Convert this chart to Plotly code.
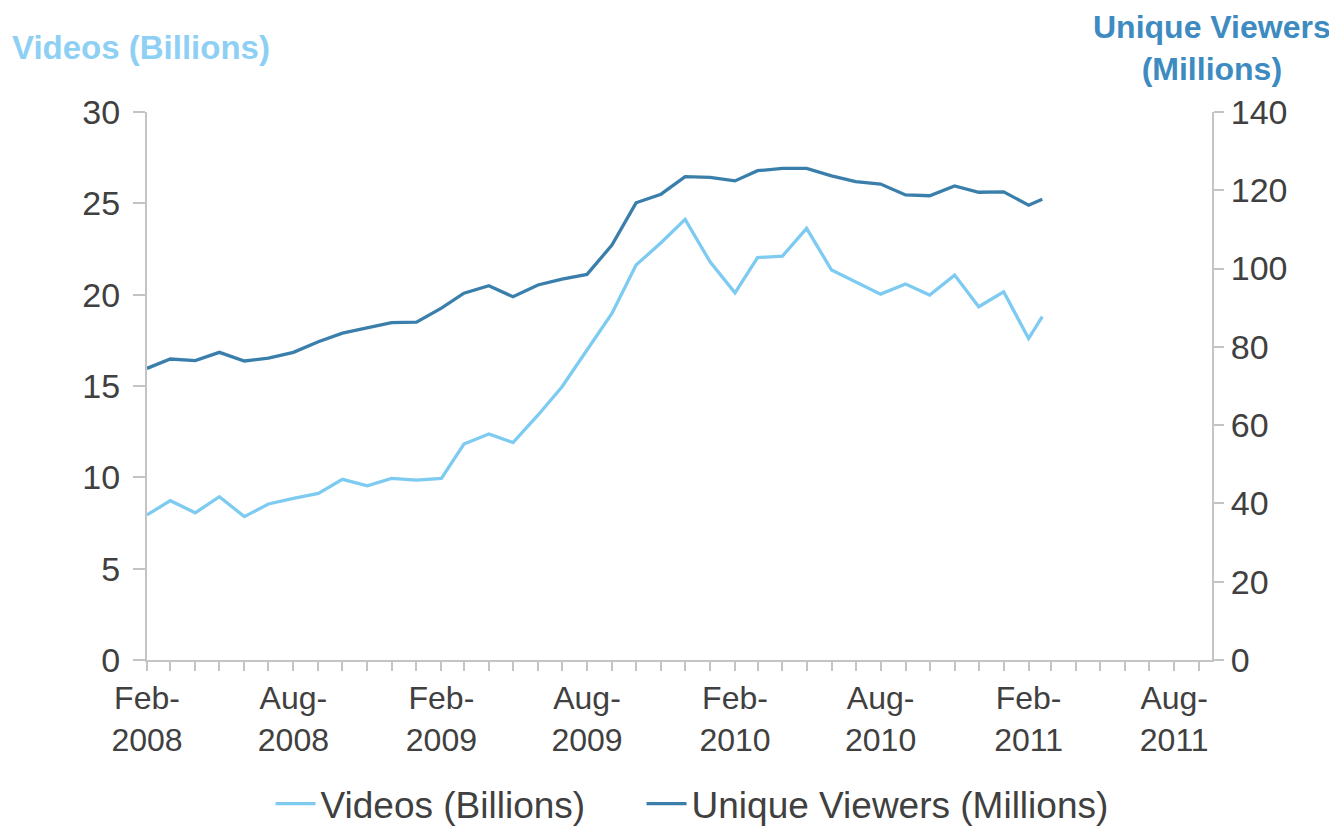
import plotly.graph_objects as go

months = [
    "2008-02-01", "2008-03-01", "2008-04-01", "2008-05-01", "2008-06-01", "2008-07-01",
    "2008-08-01", "2008-09-01", "2008-10-01", "2008-11-01", "2008-12-01", "2009-01-01",
    "2009-02-01", "2009-03-01", "2009-04-01", "2009-05-01", "2009-06-01", "2009-07-01",
    "2009-08-01", "2009-09-01", "2009-10-01", "2009-11-01", "2009-12-01", "2010-01-01",
    "2010-02-01", "2010-03-01", "2010-04-01", "2010-05-01", "2010-06-01", "2010-07-01",
    "2010-08-01", "2010-09-01", "2010-10-01", "2010-11-01", "2010-12-01", "2011-01-01",
    "2011-02-01", "2011-02-18",
]

videos_billions = [
    7.94, 8.72, 8.06, 8.94, 7.85, 8.54,
    8.85, 9.12, 9.89, 9.54, 9.94, 9.85,
    9.94, 11.82, 12.37, 11.90, 13.40, 14.96,
    16.97, 18.97, 21.62, 22.84, 24.12, 21.80,
    20.10, 22.03, 22.11, 23.63, 21.35, 20.70,
    20.03, 20.58, 19.98, 21.07, 19.34, 20.16,
    17.60, 18.80,
]

unique_viewers_millions = [
    74.5, 76.9, 76.5, 78.6, 76.4, 77.1,
    78.6, 81.3, 83.5, 84.9, 86.2, 86.3,
    89.9, 93.7, 95.6, 92.8, 95.8, 97.3,
    98.5, 106.0, 116.8, 119.0, 123.5, 123.3,
    122.4, 125.0, 125.6, 125.6, 123.7, 122.2,
    121.6, 118.8, 118.6, 121.1, 119.5, 119.6,
    116.2, 117.7,
]

tick_dates = ["2008-02-01", "2008-08-01", "2009-02-01", "2009-08-01",
              "2010-02-01", "2010-08-01", "2011-02-01", "2011-08-01"]
tick_labels = ["Feb-<br>2008", "Aug-<br>2008", "Feb-<br>2009", "Aug-<br>2009",
               "Feb-<br>2010", "Aug-<br>2010", "Feb-<br>2011", "Aug-<br>2011"]

LIGHT = "#7ecbf1"
DARK = "#3a7fab"
AXIS = "#c4c4c4"
TXT = "#404040"
FONT = "Liberation Sans, Arial, Helvetica, sans-serif"

# page body has an 8px margin; plot area target: x 147..1212, y 112..660
L, R, T, B = 139, 133, 104, 180
PW = 1337 - L - R
PH = 832 - T - B

NB = "\u00a0"

fig = go.Figure()
fig.add_trace(go.Scatter(
    x=months, y=videos_billions, name="Videos (Billions)" + NB * 5, mode="lines",
    line=dict(color=LIGHT, width=3.3), yaxis="y"))
fig.add_trace(go.Scatter(
    x=months, y=unique_viewers_millions, name="Unique Viewers (Millions)", mode="lines",
    line=dict(color=DARK, width=3.3), yaxis="y2"))

fig.update_layout(
    width=1337, height=832,
    margin=dict(l=L, r=R, t=T, b=B, autoexpand=False),
    paper_bgcolor="white", plot_bgcolor="white",
    font=dict(family=FONT, color=TXT, size=30),
    showlegend=True,
    legend=dict(orientation="h", xref="container", yref="container",
                x=(686 - 8) / 1337 + 0.012 - 10 / 1337, xanchor="center",
                y=(832 - (804 - 8)) / 832, yanchor="middle",
                font=dict(size=37, color=TXT), itemwidth=40, tracegroupgap=0),
    xaxis=dict(
        type="date", range=["2008-02-01", "2011-09-17"],
        showgrid=False, zeroline=False, automargin=False,
        showline=True, linecolor=AXIS, linewidth=2,
        tickmode="array", tickvals=tick_dates, ticktext=tick_labels,
        ticks="outside", ticklen=9, tickwidth=2, tickcolor=AXIS,
        tickfont=dict(size=32, color=TXT),
        minor=dict(tick0="2008-02-01", dtick="M1", ticks="outside", ticklen=9,
                   tickwidth=2, tickcolor=AXIS, showgrid=False),
    ),
    yaxis=dict(
        range=[0, 30], dtick=5, showgrid=False, zeroline=False, automargin=False,
        showline=True, linecolor=AXIS, linewidth=2,
        ticks="outside", ticklen=12, tickwidth=2, tickcolor=AXIS,
        tickfont=dict(size=34, color=TXT), ticklabelstandoff=6,
    ),
    yaxis2=dict(
        range=[0, 140], dtick=20, overlaying="y", side="right",
        showgrid=False, zeroline=False, automargin=False,
        showline=True, linecolor=AXIS, linewidth=2,
        ticks="outside", ticklen=10, tickwidth=2, tickcolor=AXIS,
        tickfont=dict(size=34, color=TXT),
    ),
    annotations=[
        dict(text="<b>Videos (Billions)</b>", xref="paper", yref="paper",
             x=(10 - 8 - L) / PW, y=1 + (112 - 47) / PH, xanchor="left", yanchor="middle",
             showarrow=False, font=dict(size=33, color="#8ed0f4", family=FONT)),
        dict(text="<b>Unique Viewers<br>(Millions)</b>", xref="paper", yref="paper",
             x=1.0, y=1 + (112 - 48) / PH, xanchor="center", yanchor="middle", align="center",
             showarrow=False, font=dict(size=32, color="#3d8bc0", family=FONT)),
    ],
)

fig.write_html("out.html")
